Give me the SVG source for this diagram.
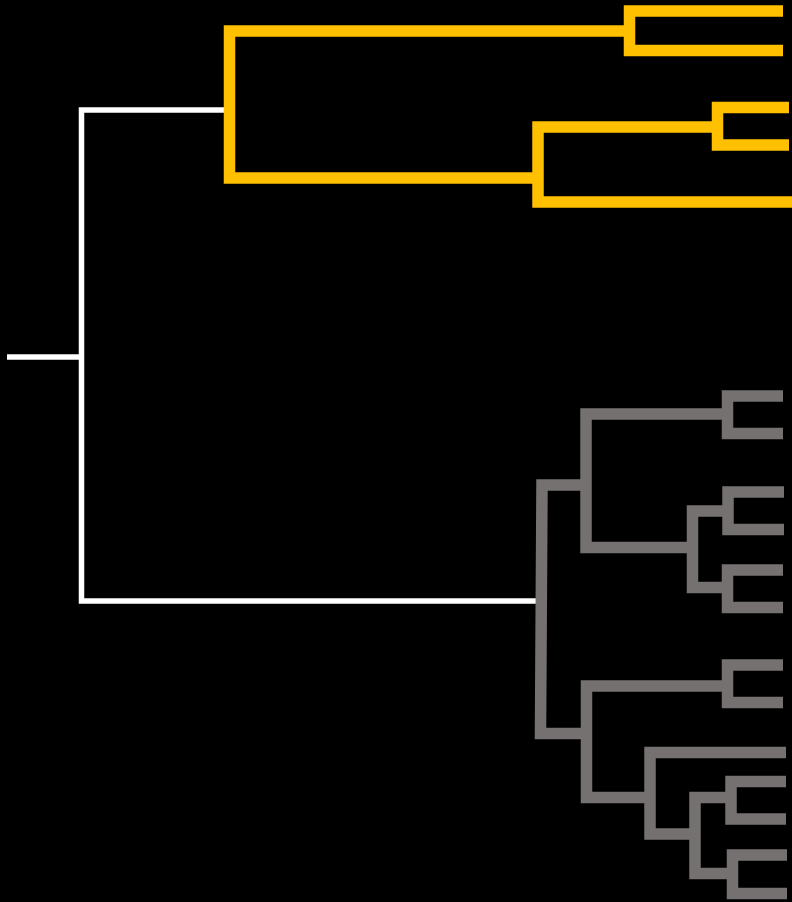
<svg xmlns="http://www.w3.org/2000/svg" width="792" height="902" viewBox="0 0 792 902">
<style>
.w{fill:none;stroke:#FFFFFF;stroke-width:5.5;stroke-linejoin:miter;stroke-linecap:butt}
.y{fill:none;stroke:#FFC000;stroke-width:11.5;stroke-linejoin:miter;stroke-linecap:butt}
.g{fill:none;stroke:#767171;stroke-width:11.5;stroke-linejoin:miter;stroke-linecap:butt}
</style>
<rect width="792" height="902" fill="#000000"/>
<g id="connectors">
<g id="root">
<polyline class="w" points="7,357 81.5,357"/>
<polyline class="w" points="224,110 81.5,110 81.5,601 538,601"/>
</g>
<g id="clade-yellow">
<polyline class="y" points="629.5,31 229.5,31 229.5,178 538,178"/>
<g id="y-pair1"><polyline class="y" points="783,11 629.5,11 629.5,50.5 783,50.5"/></g>
<g id="y-sub"><polyline class="y" points="717.5,127 538,127 538,202 792,202"/></g>
<g id="y-pair2"><polyline class="y" points="789,107.5 717.5,107.5 717.5,145 789,145"/></g>
</g>
<g id="clade-gray">
<polyline class="g" points="586,485 542,485 540.5,733.5 586.5,733.5"/>
<g id="g1"><polyline class="g" points="727.5,414 586,414 586,547.5 692.5,547.5"/></g>
<g id="g1-pair1"><polyline class="g" points="783,396 727.5,396 727.5,433.5 783,433.5"/></g>
<g id="g1b"><polyline class="g" points="728,511 692.5,511 692.5,587.5 727.5,587.5"/></g>
<g id="g1b-pair1"><polyline class="g" points="784,492 728,492 728,529.5 784,529.5"/></g>
<g id="g1b-pair2"><polyline class="g" points="783,570 727.5,570 727.5,607.5 783,607.5"/></g>
<g id="g2"><polyline class="g" points="727.5,686 586.5,686 586.5,797.5 650,797.5"/></g>
<g id="g2-pair1"><polyline class="g" points="783,665 727.5,665 727.5,702.5 783,702.5"/></g>
<g id="g2b"><polyline class="g" points="786,752.5 650,752.5 650,834 695,834"/></g>
<g id="g2c"><polyline class="g" points="731,797.5 695,797.5 695,873.5 732.5,873.5"/></g>
<g id="g2c-pair1"><polyline class="g" points="786,781.5 731,781.5 731,819 786,819"/></g>
<g id="g2c-pair2"><polyline class="g" points="787,855 732.5,855 732.5,893.5 787,893.5"/></g>
</g>
</g>
</svg>
